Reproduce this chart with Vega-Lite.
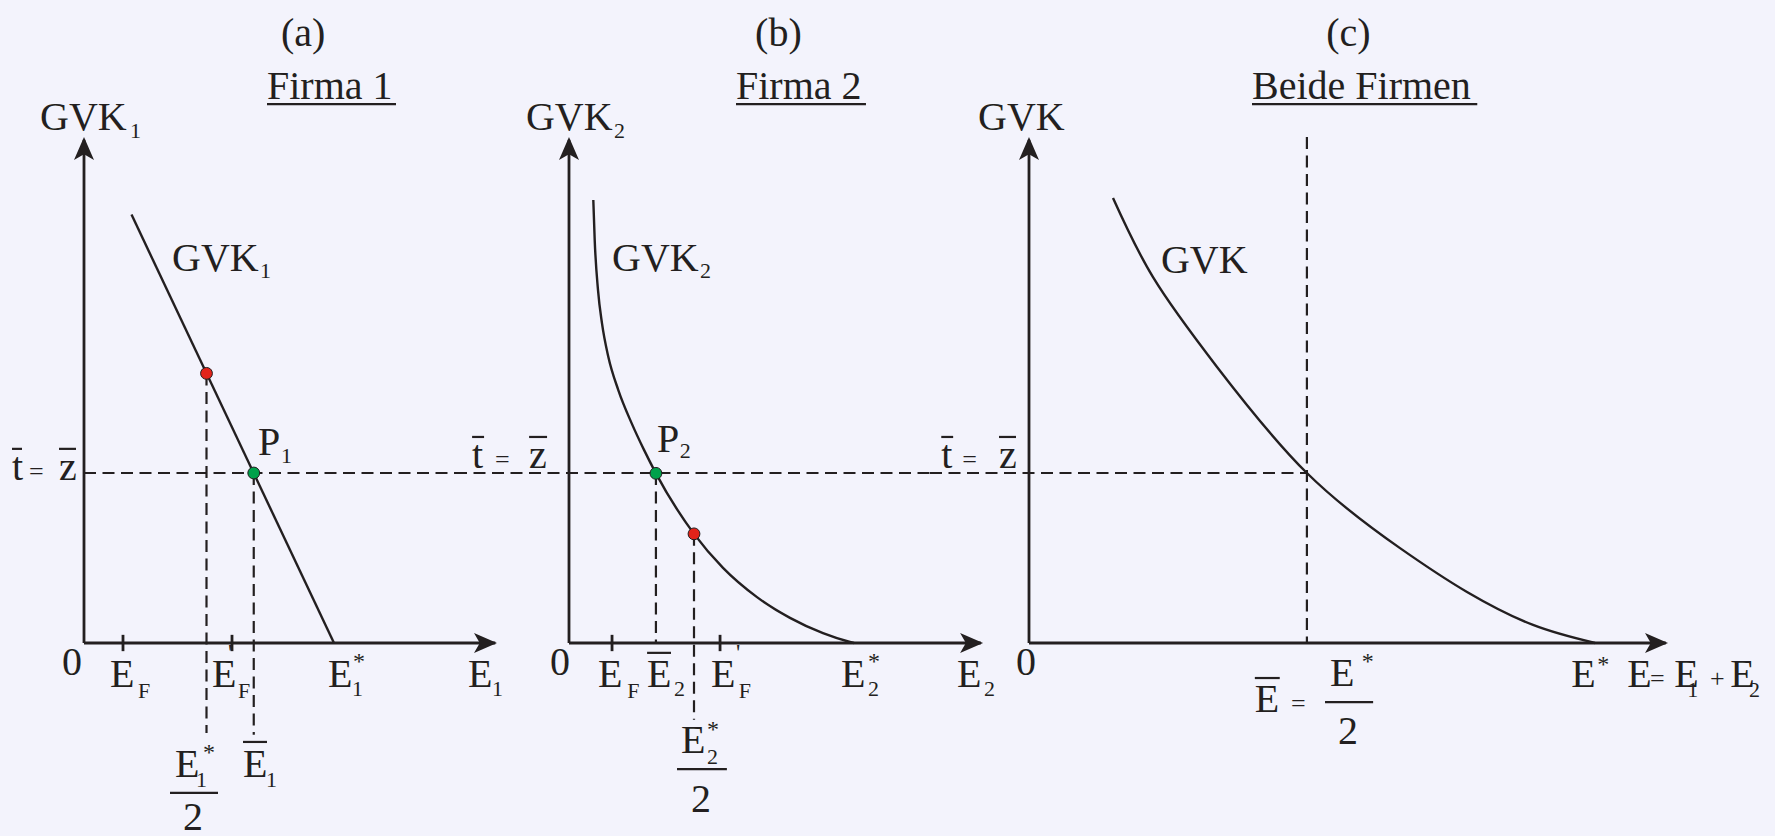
{
"$schema": "https://vega.github.io/schema/vega-lite/v6.json",
"padding": 0,
"spacing": 0,
"bounds": "flush",
"background": "#f3f3fc",
"config": {"view": {"stroke": null}, "text": {"font": "Liberation Serif, Times New Roman, DejaVu Serif, serif"}},
"datasets": {
"a_axes": [{"x":0,"y":0,"x2":0,"y2":14.8},{"x":0,"y":0,"x2":16.45,"y2":0},{"x":1.56,"y":0.24,"x2":1.56,"y2":-0.24},{"x":5.92,"y":0.24,"x2":5.92,"y2":-0.24}],
"a_dash": [{"x":0,"y":5,"x2":14.84,"y2":5},{"x":4.9,"y":7.93,"x2":4.9,"y2":-2.65},{"x":6.79,"y":5,"x2":6.79,"y2":-2.7}],
"a_bars": [{"x":7.32,"y":15.85,"x2":12.48,"y2":15.85},{"x":-2.88,"y":5.71,"x2":-2.48,"y2":5.71},{"x":-1.0,"y":5.71,"x2":-0.32,"y2":5.71},{"x":3.44,"y":-4.41,"x2":5.36,"y2":-4.41},{"x":6.36,"y":-2.91,"x2":7.32,"y2":-2.91}],
"a_curve": [{"x":1.9,"y":12.6},{"x":10,"y":0}],
"a_red": [{"x":4.9,"y":7.93}],
"a_green": [{"x":6.79,"y":5}],
"a_up": [{"x":0,"y":14.88}],
"a_right": [{"x":16.52,"y":0}],
"a_main": [{"label":"(a)","x":7.88,"y":17.56},{"label":"Firma 1","x":7.32,"y":16.0},{"label":"GVK","x":-1.76,"y":15.09},{"label":"GVK","x":3.52,"y":10.94},{"label":"t","x":-2.88,"y":4.79},{"label":"z","x":-1.0,"y":4.79},{"label":"P","x":6.96,"y":5.53},{"label":"0","x":-0.88,"y":-0.94},{"label":"E","x":1.04,"y":-1.29},{"label":"E","x":5.12,"y":-1.29},{"label":"E","x":9.76,"y":-1.29},{"label":"E","x":15.36,"y":-1.29},{"label":"E","x":3.64,"y":-3.94},{"label":"2","x":3.96,"y":-5.5},{"label":"E","x":6.36,"y":-3.94}],
"a_ops": [{"label":"=","x":-2.2,"y":4.79}],
"a_sub": [{"label":"1","x":1.84,"y":14.85},{"label":"1","x":7.04,"y":10.74},{"label":"1","x":7.88,"y":5.29},{"label":"F","x":2.16,"y":-1.62},{"label":"F","x":6.16,"y":-1.62},{"label":"1","x":10.72,"y":-1.56},{"label":"1","x":16.32,"y":-1.56},{"label":"1","x":4.48,"y":-4.24},{"label":"1","x":7.28,"y":-4.24}],
"a_sup": [{"label":"'","x":5.76,"y":-0.5},{"label":"*","x":10.76,"y":-0.76},{"label":"*","x":4.76,"y":-3.44}],
"b_axes": [{"x":0,"y":0,"x2":0,"y2":14.8},{"x":0,"y":0,"x2":14.45,"y2":0},{"x":1.51,"y":0.24,"x2":1.51,"y2":-0.24},{"x":5.3,"y":0.24,"x2":5.3,"y2":-0.24}],
"b_dash": [{"x":-4,"y":5,"x2":12.6667,"y2":5},{"x":3.05,"y":5,"x2":3.05,"y2":0},{"x":4.386,"y":3.21,"x2":4.386,"y2":-2.26}],
"b_bars": [{"x":5.86,"y":15.85,"x2":10.42,"y2":15.85},{"x":-3.4,"y":6.06,"x2":-2.98,"y2":6.06},{"x":-1.4,"y":6.06,"x2":-0.77,"y2":6.06},{"x":2.74,"y":-0.29,"x2":3.58,"y2":-0.29},{"x":3.79,"y":-3.71,"x2":5.54,"y2":-3.71}],
"b_curve": [{"x":0.853,"y":13.03},{"x":0.902,"y":11.85},{"x":1.018,"y":10.38},{"x":1.158,"y":9.4},{"x":1.379,"y":8.42},{"x":1.73,"y":7.44},{"x":2.2,"y":6.46},{"x":2.632,"y":5.68},{"x":3.05,"y":4.99},{"x":4.386,"y":3.21},{"x":5.404,"y":2.21},{"x":6.596,"y":1.35},{"x":7.754,"y":0.74},{"x":8.912,"y":0.29},{"x":9.86,"y":0.03},{"x":10,"y":0}],
"b_red": [{"x":4.386,"y":3.21}],
"b_green": [{"x":3.05,"y":4.99}],
"b_up": [{"x":0,"y":14.88}],
"b_right": [{"x":14.53,"y":0}],
"b_main": [{"label":"(b)","x":6.53,"y":17.56},{"label":"Firma 2","x":5.86,"y":16.0},{"label":"GVK","x":-1.51,"y":15.09},{"label":"GVK","x":1.51,"y":10.94},{"label":"t","x":-3.4,"y":5.15},{"label":"z","x":-1.4,"y":5.15},{"label":"P","x":3.09,"y":5.62},{"label":"0","x":-0.67,"y":-0.94},{"label":"E","x":1.02,"y":-1.29},{"label":"E","x":2.74,"y":-1.29},{"label":"E","x":4.98,"y":-1.29},{"label":"E","x":9.54,"y":-1.29},{"label":"E","x":13.61,"y":-1.29},{"label":"E","x":3.93,"y":-3.24},{"label":"2","x":4.28,"y":-4.97}],
"b_ops": [{"label":"=","x":-2.6,"y":5.15}],
"b_sub": [{"label":"2","x":1.58,"y":14.85},{"label":"2","x":4.6,"y":10.74},{"label":"2","x":3.89,"y":5.44},{"label":"F","x":2.04,"y":-1.62},{"label":"2","x":3.68,"y":-1.56},{"label":"F","x":5.96,"y":-1.62},{"label":"2","x":10.49,"y":-1.56},{"label":"2","x":14.56,"y":-1.56},{"label":"2","x":4.84,"y":-3.56}],
"b_sup": [{"label":"'","x":5.86,"y":-0.5},{"label":"*","x":10.49,"y":-0.76},{"label":"*","x":4.84,"y":-2.76}],
"c_axes": [{"x":0,"y":0,"x2":0,"y2":14.8},{"x":0,"y":0,"x2":11.25,"y2":0}],
"c_dash": [{"x":-1.7491,"y":5,"x2":4.91,"y2":5},{"x":4.91,"y":14.88,"x2":4.91,"y2":0}],
"c_bars": [{"x":3.94,"y":15.85,"x2":7.92,"y2":15.85},{"x":-1.55,"y":6.06,"x2":-1.34,"y2":6.06},{"x":-0.53,"y":6.06,"x2":-0.23,"y2":6.06},{"x":3.99,"y":-1.03,"x2":4.43,"y2":-1.03},{"x":5.23,"y":-1.74,"x2":6.08,"y2":-1.74}],
"c_curve": [{"x":1.484,"y":13.09},{"x":2.191,"y":10.76},{"x":3.322,"y":8.12},{"x":4.91,"y":5.0},{"x":6.555,"y":2.79},{"x":7.739,"y":1.5},{"x":8.905,"y":0.53},{"x":10,"y":0}],
"c_up": [{"x":0,"y":14.88}],
"c_right": [{"x":11.29,"y":0}],
"c_main": [{"label":"(c)","x":5.25,"y":17.56},{"label":"Beide Firmen","x":3.94,"y":16.0},{"label":"GVK","x":-0.9,"y":15.09},{"label":"GVK","x":2.33,"y":10.88},{"label":"t","x":-1.55,"y":5.15},{"label":"z","x":-0.53,"y":5.15},{"label":"0","x":-0.23,"y":-0.94},{"label":"E","x":3.99,"y":-2.03},{"label":"E","x":5.32,"y":-1.26},{"label":"2","x":5.46,"y":-2.97},{"label":"E","x":9.58,"y":-1.29},{"label":"E","x":10.57,"y":-1.29},{"label":"E","x":11.4,"y":-1.29},{"label":"E","x":12.39,"y":-1.29}],
"c_ops": [{"label":"=","x":-1.18,"y":5.15},{"label":"=","x":4.63,"y":-2.03},{"label":"=","x":10.97,"y":-1.29},{"label":"+","x":12.03,"y":-1.29}],
"c_sub": [{"label":"1","x":11.63,"y":-1.59},{"label":"2","x":12.72,"y":-1.59}],
"c_sup": [{"label":"*","x":5.88,"y":-0.76},{"label":"*","x":10.04,"y":-0.85}]
},
"hconcat": [
{
"width": 455, "height": 836,
"encoding": {
"x": {"field":"x","type":"quantitative","scale":{"domain":[-3.36,14.84],"nice":false,"zero":false},"axis":null},
"y": {"field":"y","type":"quantitative","scale":{"domain":[-5.6765,18.9118],"nice":false,"zero":false},"axis":null}
},
"layer": [
{"data":{"values":[{"panel":"a"}]},"mark":{"type":"rect","strokeWidth":0,"fill":{"gradient":"linear","x1":0,"y1":0,"x2":0,"y2":1,"stops":[{"offset":0,"color":"#fefeff"},{"offset":1,"color":"#e8e8f9"}]}},
 "encoding":{"x":{"datum":-3.36,"type":"quantitative","axis":null,"scale":{"domain":[-3.36,14.84],"nice":false,"zero":false}},"x2":{"datum":14.84},"y":{"datum":-5.6765,"type":"quantitative","axis":null,"scale":{"domain":[-5.6765,18.9118],"nice":false,"zero":false}},"y2":{"datum":18.9118}}},
{"data":{"name":"a_axes"},"mark":{"type":"rule","strokeWidth":2.8,"color":"#231f20"},"encoding":{"x2":{"field":"x2"},"y2":{"field":"y2"}}},
{"data":{"name":"a_dash"},"mark":{"type":"rule","strokeWidth":2.2,"color":"#231f20","strokeDash":[12,6.5]},"encoding":{"x2":{"field":"x2"},"y2":{"field":"y2"}}},
{"data":{"name":"a_bars"},"mark":{"type":"rule","strokeWidth":2.2,"color":"#231f20"},"encoding":{"x2":{"field":"x2"},"y2":{"field":"y2"}}},
{"data":{"name":"a_curve"},"mark":{"type":"line","strokeWidth":2.4,"color":"#231f20"},"encoding":{}},
{"data":{"name":"a_up"},"mark":{"type":"point","shape":"M0,0L0.87,2L0,1.5L-0.87,2Z","size":529,"filled":true,"opacity":1,"color":"#231f20","strokeWidth":0},"encoding":{}},
{"data":{"name":"a_right"},"mark":{"type":"point","shape":"M0,0L-2,-0.87L-1.5,0L-2,0.87Z","size":529,"filled":true,"opacity":1,"color":"#231f20","strokeWidth":0},"encoding":{}},
{"data":{"name":"a_red"},"mark":{"type":"point","shape":"circle","size":140,"filled":true,"opacity":1,"fill":"#e2231a","stroke":"#231f20","strokeWidth":1},"encoding":{}},
{"data":{"name":"a_green"},"mark":{"type":"point","shape":"circle","size":140,"filled":true,"opacity":1,"fill":"#00a14b","stroke":"#231f20","strokeWidth":1},"encoding":{}},
{"data":{"name":"a_main"},"mark":{"type":"text","fontSize":40,"align":"left","baseline":"alphabetic","color":"#231f20"},"encoding":{"text":{"field":"label"}}},
{"data":{"name":"a_ops"},"mark":{"type":"text","fontSize":26,"align":"left","baseline":"alphabetic","color":"#231f20"},"encoding":{"text":{"field":"label"}}},
{"data":{"name":"a_sub"},"mark":{"type":"text","fontSize":22,"align":"left","baseline":"alphabetic","color":"#231f20"},"encoding":{"text":{"field":"label"}}},
{"data":{"name":"a_sup"},"mark":{"type":"text","fontSize":24,"align":"left","baseline":"alphabetic","color":"#231f20"},"encoding":{"text":{"field":"label"}}}
]
},
{
"width": 475, "height": 836,
"encoding": {
"x": {"field":"x","type":"quantitative","scale":{"domain":[-4,12.6667],"nice":false,"zero":false},"axis":null},
"y": {"field":"y","type":"quantitative","scale":{"domain":[-5.6765,18.9118],"nice":false,"zero":false},"axis":null}
},
"layer": [
{"data":{"values":[{"panel":"b"}]},"mark":{"type":"rect","strokeWidth":0,"fill":{"gradient":"linear","x1":0,"y1":0,"x2":0,"y2":1,"stops":[{"offset":0,"color":"#fefeff"},{"offset":1,"color":"#e8e8f9"}]}},
 "encoding":{"x":{"datum":-4,"type":"quantitative","axis":null,"scale":{"domain":[-4,12.6667],"nice":false,"zero":false}},"x2":{"datum":12.6667},"y":{"datum":-5.6765,"type":"quantitative","axis":null,"scale":{"domain":[-5.6765,18.9118],"nice":false,"zero":false}},"y2":{"datum":18.9118}}},
{"data":{"name":"b_axes"},"mark":{"type":"rule","strokeWidth":2.8,"color":"#231f20"},"encoding":{"x2":{"field":"x2"},"y2":{"field":"y2"}}},
{"data":{"name":"b_dash"},"mark":{"type":"rule","strokeWidth":2.2,"color":"#231f20","strokeDash":[12,6.5]},"encoding":{"x2":{"field":"x2"},"y2":{"field":"y2"}}},
{"data":{"name":"b_bars"},"mark":{"type":"rule","strokeWidth":2.2,"color":"#231f20"},"encoding":{"x2":{"field":"x2"},"y2":{"field":"y2"}}},
{"data":{"name":"b_curve"},"mark":{"type":"line","strokeWidth":2.4,"color":"#231f20","interpolate":"monotone"},"encoding":{}},
{"data":{"name":"b_up"},"mark":{"type":"point","shape":"M0,0L0.87,2L0,1.5L-0.87,2Z","size":529,"filled":true,"opacity":1,"color":"#231f20","strokeWidth":0},"encoding":{}},
{"data":{"name":"b_right"},"mark":{"type":"point","shape":"M0,0L-2,-0.87L-1.5,0L-2,0.87Z","size":529,"filled":true,"opacity":1,"color":"#231f20","strokeWidth":0},"encoding":{}},
{"data":{"name":"b_red"},"mark":{"type":"point","shape":"circle","size":140,"filled":true,"opacity":1,"fill":"#e2231a","stroke":"#231f20","strokeWidth":1},"encoding":{}},
{"data":{"name":"b_green"},"mark":{"type":"point","shape":"circle","size":140,"filled":true,"opacity":1,"fill":"#00a14b","stroke":"#231f20","strokeWidth":1},"encoding":{}},
{"data":{"name":"b_main"},"mark":{"type":"text","fontSize":40,"align":"left","baseline":"alphabetic","color":"#231f20"},"encoding":{"text":{"field":"label"}}},
{"data":{"name":"b_ops"},"mark":{"type":"text","fontSize":26,"align":"left","baseline":"alphabetic","color":"#231f20"},"encoding":{"text":{"field":"label"}}},
{"data":{"name":"b_sub"},"mark":{"type":"text","fontSize":22,"align":"left","baseline":"alphabetic","color":"#231f20"},"encoding":{"text":{"field":"label"}}},
{"data":{"name":"b_sup"},"mark":{"type":"text","fontSize":24,"align":"left","baseline":"alphabetic","color":"#231f20"},"encoding":{"text":{"field":"label"}}}
]
},
{
"width": 845, "height": 836,
"encoding": {
"x": {"field":"x","type":"quantitative","scale":{"domain":[-1.7491,13.1802],"nice":false,"zero":false},"axis":null},
"y": {"field":"y","type":"quantitative","scale":{"domain":[-5.6765,18.9118],"nice":false,"zero":false},"axis":null}
},
"layer": [
{"data":{"values":[{"panel":"c"}]},"mark":{"type":"rect","strokeWidth":0,"fill":{"gradient":"linear","x1":0,"y1":0,"x2":0,"y2":1,"stops":[{"offset":0,"color":"#fefeff"},{"offset":1,"color":"#e8e8f9"}]}},
 "encoding":{"x":{"datum":-1.7491,"type":"quantitative","axis":null,"scale":{"domain":[-1.7491,13.1802],"nice":false,"zero":false}},"x2":{"datum":13.1802},"y":{"datum":-5.6765,"type":"quantitative","axis":null,"scale":{"domain":[-5.6765,18.9118],"nice":false,"zero":false}},"y2":{"datum":18.9118}}},
{"data":{"name":"c_axes"},"mark":{"type":"rule","strokeWidth":2.8,"color":"#231f20"},"encoding":{"x2":{"field":"x2"},"y2":{"field":"y2"}}},
{"data":{"name":"c_dash"},"mark":{"type":"rule","strokeWidth":2.2,"color":"#231f20","strokeDash":[12,6.5]},"encoding":{"x2":{"field":"x2"},"y2":{"field":"y2"}}},
{"data":{"name":"c_bars"},"mark":{"type":"rule","strokeWidth":2.2,"color":"#231f20"},"encoding":{"x2":{"field":"x2"},"y2":{"field":"y2"}}},
{"data":{"name":"c_curve"},"mark":{"type":"line","strokeWidth":2.4,"color":"#231f20","interpolate":"natural"},"encoding":{}},
{"data":{"name":"c_up"},"mark":{"type":"point","shape":"M0,0L0.87,2L0,1.5L-0.87,2Z","size":529,"filled":true,"opacity":1,"color":"#231f20","strokeWidth":0},"encoding":{}},
{"data":{"name":"c_right"},"mark":{"type":"point","shape":"M0,0L-2,-0.87L-1.5,0L-2,0.87Z","size":529,"filled":true,"opacity":1,"color":"#231f20","strokeWidth":0},"encoding":{}},
{"data":{"name":"c_main"},"mark":{"type":"text","fontSize":40,"align":"left","baseline":"alphabetic","color":"#231f20"},"encoding":{"text":{"field":"label"}}},
{"data":{"name":"c_ops"},"mark":{"type":"text","fontSize":26,"align":"left","baseline":"alphabetic","color":"#231f20"},"encoding":{"text":{"field":"label"}}},
{"data":{"name":"c_sub"},"mark":{"type":"text","fontSize":22,"align":"left","baseline":"alphabetic","color":"#231f20"},"encoding":{"text":{"field":"label"}}},
{"data":{"name":"c_sup"},"mark":{"type":"text","fontSize":24,"align":"left","baseline":"alphabetic","color":"#231f20"},"encoding":{"text":{"field":"label"}}}
]
}
]
}
